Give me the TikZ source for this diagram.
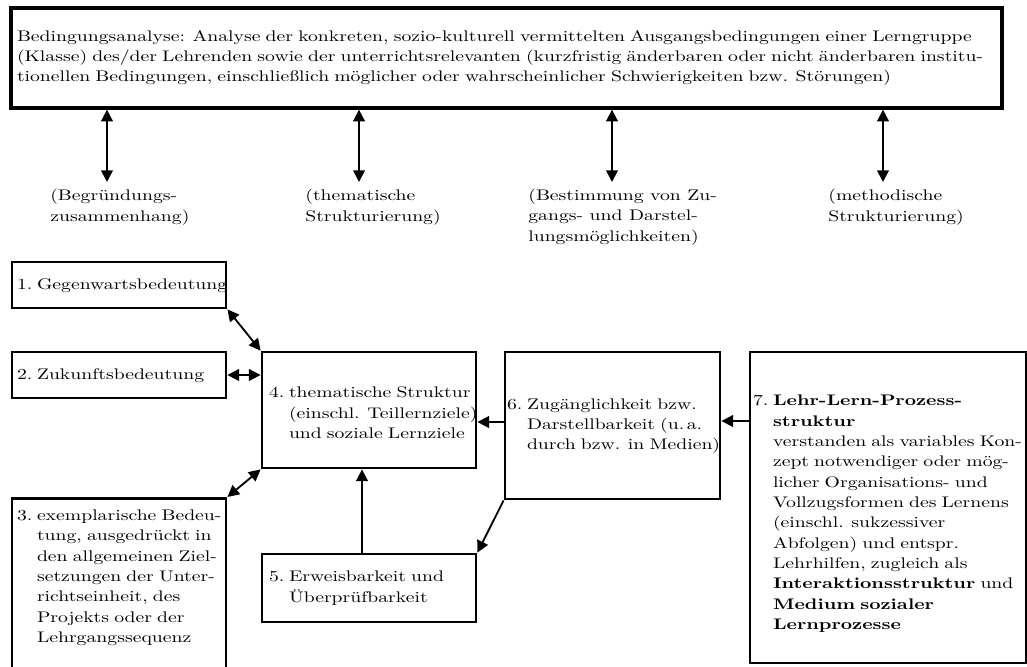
\documentclass[tikz,border=0pt]{standalone}
\usepackage{fontspec}
\setmainfont{lmroman10-regular.otf}[BoldFont=lmroman10-bold.otf, FakeStretch=1.285]
\usetikzlibrary{arrows.meta}

% numbered entry with hanging indent: [downward shift], label, lines separated by \\
\newcommand\numitem[3][0pt]{\raisebox{-#1}[\height][\depth]{\makebox[12pt][l]{#2}\begin{tabular}[t]{@{}l@{}}#3\end{tabular}}}

\begin{document}
\begin{tikzpicture}[x=0.6pt,y=-0.6pt,
  txt/.style={font=\fontsize{9.2pt}{12.2pt}\selectfont},
  box/.style={draw, line width=1.7pt, rectangle, inner ysep=0pt, align=left, txt},
  lbl/.style={txt, align=left, inner sep=0pt, anchor=west},
  link/.style={line width=1.1pt},
  tip/.style={-{Triangle[length=7pt,width=7pt]}},
  dbl/.style={{Triangle[length=7pt,width=7pt]}-{Triangle[length=7pt,width=7pt]}},
]
\useasboundingbox (0,0) rectangle (1027,666);
\clip (0,0) rectangle (1027,666);

% conditions analysis
\node[box, line width=2pt, inner xsep=3.6pt, text width=587.4pt, minimum height=60pt,
      font=\fontsize{9.2pt}{12pt}\selectfont] (T) at (506.5,58)
  {Bedingungsanalyse: Analyse der konkreten, sozio-kulturell vermittelten Ausgangsbedingungen einer Lerngruppe\\
   (Klasse) des/der Lehrenden sowie der unterrichtsrelevanten (kurzfristig änderbaren oder nicht änderbaren institu-\\
   tionellen Bedingungen, einschließlich möglicher oder wahrscheinlicher Schwierigkeiten bzw. Störungen)};

% the four aspects
\node[lbl] (L1) at (50,207)  {(Begründungs-\\zusammenhang)};
\node[lbl] (L2) at (305,207) {(thematische\\Strukturierung)};
\node[lbl] (L3) at (528,217) {(Bestimmung von Zu-\\gangs- und Darstel-\\lungsmöglichkeiten)};
\node[lbl] (L4) at (828,207) {(methodische\\Strukturierung)};

\coordinate (a1) at (107,182);
\coordinate (a2) at (359,182);
\coordinate (a3) at (612,182);
\coordinate (a4) at (883,182);
\foreach \a in {a1,a2,a3,a4}
  \draw[link,dbl] (\a |- T.south) -- (\a);

% planning boxes
\node[box, inner xsep=3pt, text width=122.4pt, minimum height=27.6pt] (B1) at (119,285)
  {\numitem{1.}{Gegenwartsbedeutung}};
\node[box, inner xsep=3pt, text width=122.4pt, minimum height=27.6pt] (B2) at (119,375)
  {\numitem{2.}{Zukunftsbedeutung}};
\node[box, inner xsep=3pt, inner ysep=4.8pt, text width=122.4pt, anchor=north] (B3) at (119,497)
  {\numitem{3.}{exemplarische Bedeu-\\tung, ausgedrückt in\\den allgemeinen Ziel-\\setzungen der Unter-\\richtseinheit, des\\Projekts oder der\\Lehrgangssequenz\\[70pt]}};
\node[box, inner xsep=4.2pt, text width=120pt, minimum height=69.6pt] (B4) at (369,410)
  {\numitem[2.4pt]{4.}{thematische Struktur\\(einschl. Teillernziele)\\und soziale Lernziele}};
\node[box, inner xsep=4.2pt, text width=120pt, minimum height=40.8pt] (B5) at (369,588)
  {\numitem{5.}{Erweisbarkeit und\\Überprüfbarkeit}};
\node[box, inner xsep=1.2pt, text width=126.6pt, minimum height=88.2pt] (B6) at (612.5,425.5)
  {\numitem{6.}{Zugänglichkeit bzw.\\Darstellbarkeit (u.\,a.\\durch bzw. in Medien)}};
\node[box, inner xsep=1.8pt, text width=162pt, minimum height=186.6pt] (B7) at (888,507.5)
  {\numitem[3.6pt]{7.}{\textbf{Lehr-Lern-Prozess-}\\\textbf{struktur}\\verstanden als variables Kon-\\zept notwendiger oder mög-\\licher Organisations- und\\Vollzugsformen des Lernens\\(einschl. sukzessiver\\Abfolgen) und entspr.\\Lehrhilfen, zugleich als\\\textbf{Interaktionsstruktur} und\\\textbf{Medium sozialer}\\\textbf{Lernprozesse}}};

% connections
\draw[link,dbl] (B1.south east) -- (B4.north west);
\draw[link,dbl] (B2.east) -- (B2.east -| B4.west);
\draw[link,dbl] (B3.north east) -- (B4.south west);
\coordinate (m5) at (362,0);
\draw[link,tip] (B5.north -| m5) -- (B4.south -| m5);
\coordinate (m6) at (0,422);
\draw[link,tip] (B6.west |- m6) -- (B4.east |- m6);
\coordinate (m7) at (0,421);
\draw[link,tip] (B7.west |- m7) -- (B6.east |- m7);
\draw[link,tip] (B6.south west) -- (B5.north east);
\end{tikzpicture}
\end{document}
